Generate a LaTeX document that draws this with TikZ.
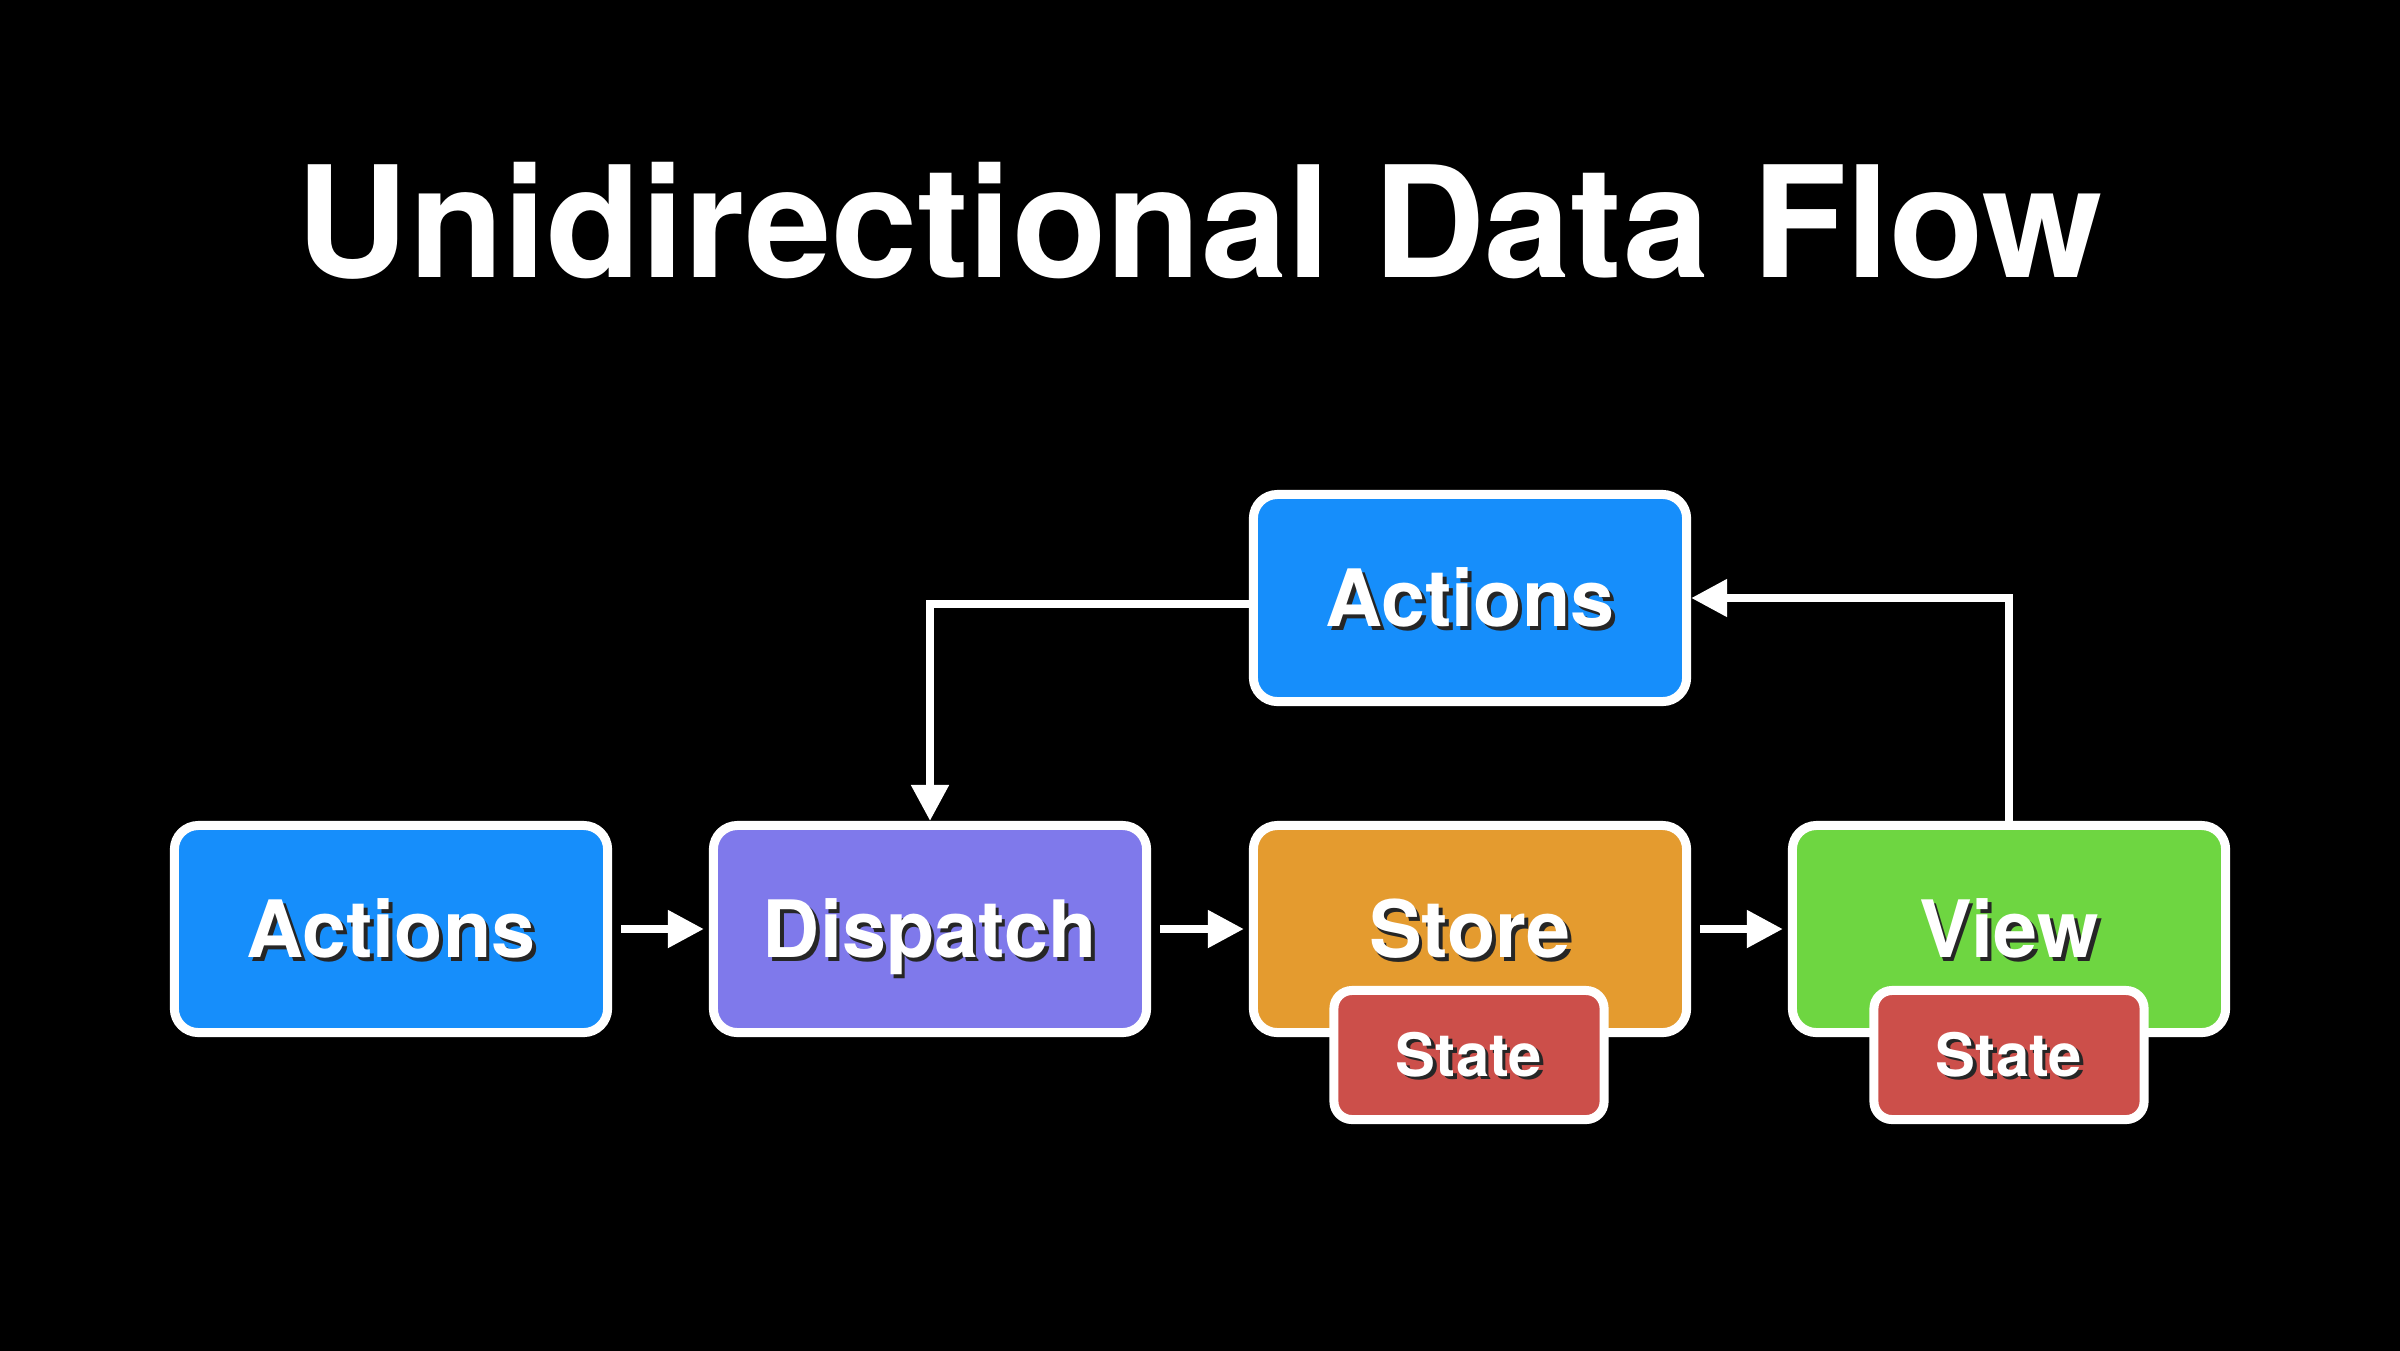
\documentclass[tikz,border=0pt]{standalone}
\usepackage{fontspec}
\setmainfont{TeX Gyre Heros}
\usetikzlibrary{arrows.meta}
\definecolor{actblue}{HTML}{168EFB}
\definecolor{disppurple}{HTML}{7F79EB}
\definecolor{storeorange}{HTML}{E49B2F}
\definecolor{viewgreen}{HTML}{6ED641}
\definecolor{statered}{HTML}{CC4F4A}
\newcommand\shd[1]{\makebox[0pt][l]{\hspace{0.035cm}\raisebox{-0.035cm}{\color{black!85}#1}}#1}
\begin{document}
\begin{tikzpicture}[x=0.01cm,y=-0.01cm,
  box/.style={draw=white,line width=0.09cm,rounded corners=0.24cm,
    minimum width=4.33cm,minimum height=2.07cm,inner sep=0pt,text=white,
    font=\fontsize{22.5}{27}\selectfont\bfseries,text height=16.2pt,text depth=0pt},
  statebox/.style={box,minimum width=2.70cm,minimum height=1.29cm,rounded corners=0.18cm,
    font=\fontsize{17}{20}\selectfont\bfseries,text height=12.2pt},
  conn/.style={white,line width=0.08cm,-{Triangle[length=0.36cm,width=0.36cm]}}]
\useasboundingbox (0,0) rectangle (2400,1350);
\fill[black] (-20,-20) rectangle (2420,1370);
\node[anchor=base,text=white,inner sep=0pt,font=\fontsize{44}{50}\selectfont\bfseries] (title) at (1200,277) {Unidirectional Data Flow};

\node[box,fill=actblue] (A1) at (391,929) {\shd{Actions}};
\node[box,fill=disppurple] (D) at (930,929) {\shd{Dispatch}};
\node[box,fill=storeorange] (S) at (1470,929) {\shd{Store}};
\node[box,fill=viewgreen] (V) at (2009,929) {\shd{View}};
\node[box,fill=actblue] (TA) at (1470,598) {\shd{Actions}};
\node[statebox,fill=statered] (ST1) at (1469,1055) {\shd{State}};
\node[statebox,fill=statered] (ST2) at (2009,1055) {\shd{State}};

\draw[conn,shorten <=0.09cm,shorten >=0.05cm] (A1.east) -- (D.west);
\draw[conn,shorten <=0.09cm,shorten >=0.05cm] (D.east) -- (S.west);
\draw[conn,shorten <=0.09cm,shorten >=0.05cm] (S.east) -- (V.west);
\draw[conn] (V.north) |- (TA.east);
\draw[conn] ([yshift=-0.06cm]TA.west) -| (D.north);
\end{tikzpicture}
\end{document}
